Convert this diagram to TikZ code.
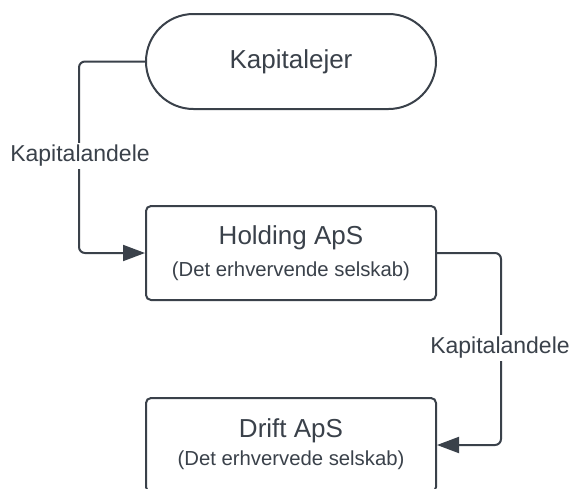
\documentclass[tikz,border=0pt]{standalone}
\usepackage{fontspec}
\setmainfont{Liberation Sans}
\usetikzlibrary{arrows.meta,shapes.misc}
\definecolor{ink}{HTML}{3A414A}
\begin{document}
\begin{tikzpicture}[x=1pt,y=-1pt,
  shapebox/.style={draw=ink,line width=2pt,rounded corners=5pt,minimum width=290pt,minimum height=94pt,inner sep=0pt},
  stadium/.style={draw=ink,line width=2pt,rounded rectangle,minimum width=290pt,minimum height=95pt,inner sep=0pt},
  conn/.style={draw=ink,line width=2pt,rounded corners=6pt,-{Triangle[length=22pt,width=16pt]}},
  lbl/.style={fill=white,text=ink,inner sep=2pt,font=\fontsize{23}{27}\selectfont},
  title/.style={text=ink,inner sep=0pt,font=\fontsize{26}{30}\selectfont},
  sub/.style={text=ink,inner sep=0pt,font=\fontsize{20.3}{24}\selectfont}]
\useasboundingbox[fill=white] (0,0) rectangle (571,488);
\node[stadium] (kap) at (291,61.5) {};
\node[title] (kapt) at (291,61.5) {Kapitalejer};
\node[shapebox] (hold) at (291,253) {};
\node[title] (holdt) at (291,238) {Holding ApS};
\node[sub] (holds) at (291,271) {(Det erhvervende selskab)};
\node[shapebox] (drift) at (291,445) {};
\node[title] (driftt) at (291,431) {Drift ApS};
\node[sub] (drifts) at (291,460) {(Det erhvervede selskab)};
\draw[conn] (kap.west) -- ++(-66,0) |- (hold.west);
\draw[conn] (hold.east) -- ++(64,0) |- (drift.east);
\node[lbl] (l1) at (80,156) {Kapitalandele};
\node[lbl] (l2) at (500,348) {Kapitalandele};
\end{tikzpicture}
\end{document}
